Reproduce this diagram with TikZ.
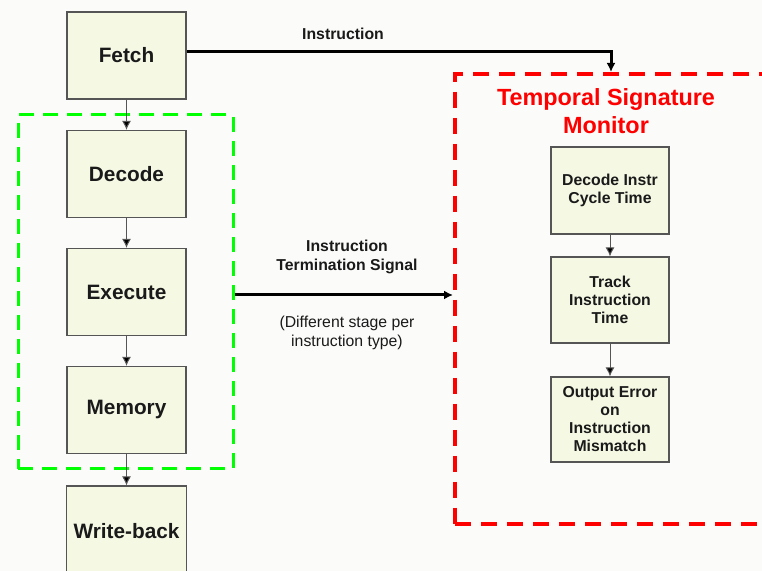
\documentclass[tikz,border=0pt]{standalone}
\usepackage{fontspec}
\setmainfont{Liberation Sans}
\usetikzlibrary{arrows.meta}
\definecolor{boxfill}{HTML}{F5F9E4}
\definecolor{boxline}{HTML}{555555}
\definecolor{pagebg}{HTML}{FBFBF9}
\definecolor{monred}{HTML}{FF0000}
\definecolor{pipegreen}{HTML}{00FF00}
\definecolor{ink}{HTML}{1A1A1A}
\tikzset{
  stage/.style={draw=boxline, fill=boxfill, line width=0.6pt, minimum width=59.5pt,
    minimum height=43.5pt, text=ink, font=\bfseries\fontsize{10.4}{12}\selectfont},
  monbox/.style={draw=boxline, fill=boxfill, line width=0.6pt, minimum width=59pt,
    minimum height=43pt, align=center, text=ink, font=\bfseries\fontsize{7.9}{9}\selectfont},
  flow/.style={draw=boxline, line width=0.5pt, -{Latex[length=4.5pt,width=4.5pt,fill=black]}},
  bigflow/.style={line width=1.5pt, -{Latex[length=4.5pt,width=4.5pt]}},
  lbl/.style={align=center, text=ink, font=\fontsize{7.9}{9.5}\selectfont},
}
\begin{document}
\begin{tikzpicture}[x=0.5pt,y=-0.5pt]
  \useasboundingbox (0,0) rectangle (762,571);
  \clip (0,0) rectangle (762,571);
  \fill[pagebg] (0,0) rectangle (762,571);

  % frames
  \node[draw=pipegreen, line width=1.5pt, dash pattern=on 7.5pt off 4.5pt,
    minimum width=107.5pt, minimum height=177pt] (pipe) at (125.5,292) {};
  \node[draw=monred, line width=2pt, dash pattern=on 8pt off 5pt,
    minimum width=156pt, minimum height=225pt] (mon) at (611,299) {};
  \node[text=monred, align=center, font=\bfseries\fontsize{11.7}{14}\selectfont]
    (title) at (606,111) {Temporal Signature\\Monitor};

  % pipeline stages
  \node[stage] (fetch) at (126.5,55.5) {Fetch};
  \node[stage] (decode) at (126.5,174) {Decode};
  \node[stage] (execute) at (126.5,292) {Execute};
  \node[stage] (memory) at (126.5,410) {Memory};
  \node[stage, minimum height=45pt] (wb) at (126.5,531) {Write-back};

  % monitor steps
  \node[monbox, minimum height=43.5pt] (cycle) at (610,190.5) {Decode Instr\\Cycle Time};
  \node[monbox] (track) at (610,300) {Track\\Instruction\\Time};
  \node[monbox, minimum height=42.5pt] (err) at (610,419.5) {Output Error\\on\\Instruction\\Mismatch};

  \draw[flow] (fetch) -- (decode);
  \draw[flow] (decode) -- (execute);
  \draw[flow] (execute) -- (memory);
  \draw[flow] (memory) -- (wb);
  \draw[flow] (cycle) -- (track);
  \draw[flow] (track) -- (err);

  \draw[bigflow] ([yshift=2pt]fetch.east) -| (mon.north);
  \draw[bigflow] ([yshift=-1.5pt]pipe.east) -- ([yshift=-1.5pt]pipe.east -| mon.west);

  \node[lbl, font=\bfseries\fontsize{7.9}{9.5}\selectfont] (instr) at (343,34) {Instruction};
  \node[lbl, font=\bfseries\fontsize{7.9}{9.5}\selectfont] (term) at (347,256.5) {Instruction\\Termination Signal};
  \node[lbl] (note) at (347,332.5) {(Different stage per\\instruction type)};
\end{tikzpicture}
\end{document}
